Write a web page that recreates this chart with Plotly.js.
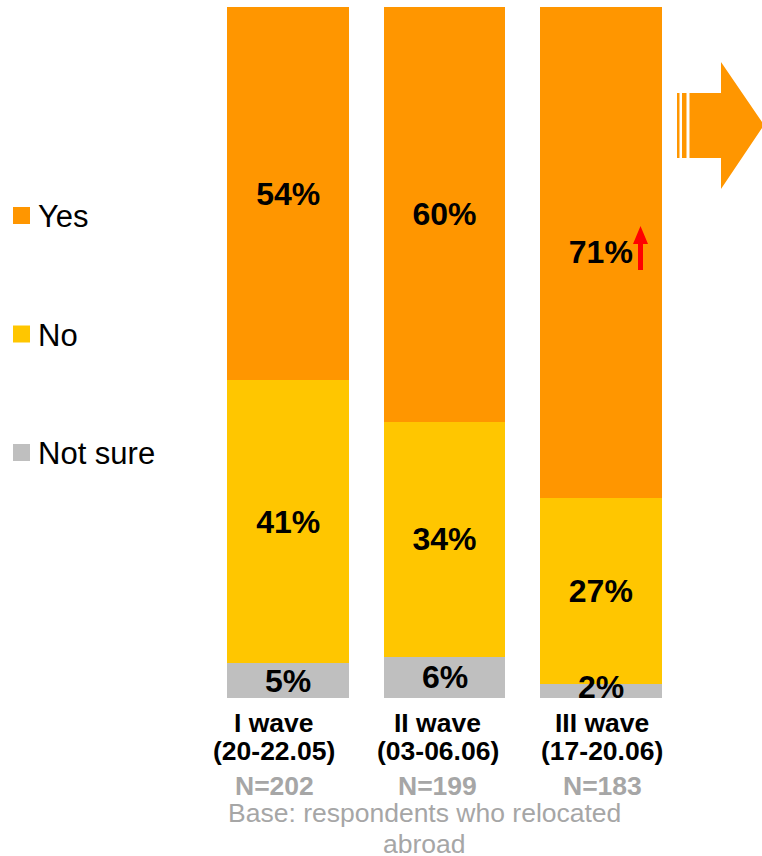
<!DOCTYPE html>
<html>
<head>
<meta charset="utf-8">
<script src="https://cdn.plot.ly/plotly-3.0.1.min.js"></script>
<style>html,body{margin:0;padding:0;background:#fff;}#chart{width:762px;height:856px;}</style>
</head>
<body>
<div id="chart"></div>
<script>
const waves = ['I wave', 'II wave', 'III wave'];
const waveDates = ['(20-22.05)', '(03-06.06)', '(17-20.06)'];
const sampleSizes = [202, 199, 183];
const yesValues = [54, 60, 71];
const noValues = [41, 34, 27];
const notSureValues = [5, 6, 2];
const seriesNames = ['Yes', 'No', 'Not sure'];
const seriesColors = ['#FF9600', '#FFC600', '#BFBFBF'];
const baseNoteLines = ['Base: respondents who relocated', 'abroad'];

const FONT = 'Liberation Sans, Arial, sans-serif';
const W = 762, H = 856;
const M = {l: 210, r: 83, t: 7, b: 158};
const plotW = W - M.l - M.r, plotH = H - M.t - M.b;
const px = x => (x - M.l) / plotW;
const py = y => (H - M.b - y) / plotH;
const LABEL_FONT = {family: FONT, size: 32, color: '#000', weight: 700};

const xIdx = waves.map((_, i) => i);
function barTrace(name, vals, color, showText) {
  return {
    type: 'bar', name: name, x: xIdx, y: vals, width: 0.78,
    marker: {color: color, line: {width: 0}},
    text: showText ? vals.map(v => v + '%') : undefined,
    textposition: showText ? 'inside' : 'none', insidetextanchor: 'middle', textangle: 0,
    constraintext: 'none',
    textfont: LABEL_FONT,
    hoverinfo: 'skip', showlegend: false
  };
}
const data = [
  barTrace(seriesNames[2], notSureValues, seriesColors[2], false),
  barTrace(seriesNames[1], noValues, seriesColors[1], true),
  barTrace(seriesNames[0], yesValues, seriesColors[0], true)
];

const annotations = [];
// labels of the thin bottom segments: kept inside the plot, as in the reference
const minLabelY = 11 / plotH * 100;
xIdx.forEach(i => {
  annotations.push({xref: 'x', yref: 'y', x: i, y: Math.max(notSureValues[i] / 2, minLabelY), yanchor: 'middle',
    text: notSureValues[i] + '%', showarrow: false, font: LABEL_FONT});
});

// category labels sit slightly off the bar centres in the reference
const labelShift = [-14, -7, 1.5];
xIdx.forEach(i => {
  annotations.push({xref: 'x', yref: 'paper', x: i, y: 0, yanchor: 'middle', yshift: -25, xshift: labelShift[i],
    text: '<b>' + waves[i] + '</b>', showarrow: false, font: {family: FONT, size: 26.5, color: '#000'}});
  annotations.push({xref: 'x', yref: 'paper', x: i, y: 0, yanchor: 'middle', yshift: -53, xshift: labelShift[i],
    text: '<b>' + waveDates[i] + '</b>', showarrow: false, font: {family: FONT, size: 26.5, color: '#000'}});
  annotations.push({xref: 'x', yref: 'paper', x: i, y: 0, yanchor: 'middle', yshift: -88, xshift: labelShift[i],
    text: '<b>N=' + sampleSizes[i] + '</b>', showarrow: false, font: {family: FONT, size: 26.5, color: '#A6A6A6'}});
});
baseNoteLines.forEach((line, k) => {
  annotations.push({xref: 'paper', yref: 'paper', x: px(424), y: 0, yanchor: 'middle', yshift: -(115 + 31 * k),
    text: line, showarrow: false, align: 'center', font: {family: FONT, size: 26.5, color: '#A6A6A6'}});
});

function poly(pts) {
  return 'M ' + pts.map(p => px(p[0]).toFixed(5) + ' ' + py(p[1]).toFixed(5)).join(' L ') + ' Z';
}
const shapes = [
  // red up arrow
  {type: 'path', xref: 'paper', yref: 'paper', fillcolor: '#FF0000', line: {width: 0},
    path: poly([[633, 244], [640.5, 226], [648, 244], [643, 244], [643, 270], [638, 270], [638, 244]])},
  // orange striped arrow
  {type: 'rect', xref: 'paper', yref: 'paper', x0: px(677), x1: px(679.5), y0: py(93), y1: py(158), fillcolor: '#FF9600', line: {width: 0}},
  {type: 'rect', xref: 'paper', yref: 'paper', x0: px(682), x1: px(686.5), y0: py(93), y1: py(158), fillcolor: '#FF9600', line: {width: 0}},
  {type: 'path', xref: 'paper', yref: 'paper', fillcolor: '#FF9600', line: {width: 0},
    path: poly([[689.5, 93], [721, 93], [721, 62], [764, 125], [721, 189], [721, 158], [689.5, 158]])}
];

// legend (drawn manually to match the reference spacing and marker size)
seriesNames.forEach((name, i) => {
  const cy = 215.5 + 118.5 * i;
  shapes.push({type: 'rect', xref: 'paper', yref: 'paper', x0: px(13), x1: px(30), y0: py(cy - 8.5), y1: py(cy + 8.5),
    fillcolor: seriesColors[i], line: {width: 0}});
  annotations.push({xref: 'paper', yref: 'paper', x: px(36), xanchor: 'left', y: py(cy + 1), yanchor: 'middle',
    text: name, showarrow: false, font: {family: FONT, size: 31, color: '#000'}});
});

const layout = {
  width: W, height: H,
  margin: M,
  paper_bgcolor: '#fff', plot_bgcolor: '#fff',
  barmode: 'stack',
  font: {family: FONT},
  xaxis: {range: [-0.5, 2.5], showticklabels: false, showgrid: false, zeroline: false, showline: false, ticks: '', fixedrange: true},
  yaxis: {range: [0, 100], visible: false, fixedrange: true},
  showlegend: false,
  annotations: annotations,
  shapes: shapes
};

Plotly.newPlot('chart', data, layout, {displayModeBar: false, staticPlot: true});
</script>
</body>
</html>
